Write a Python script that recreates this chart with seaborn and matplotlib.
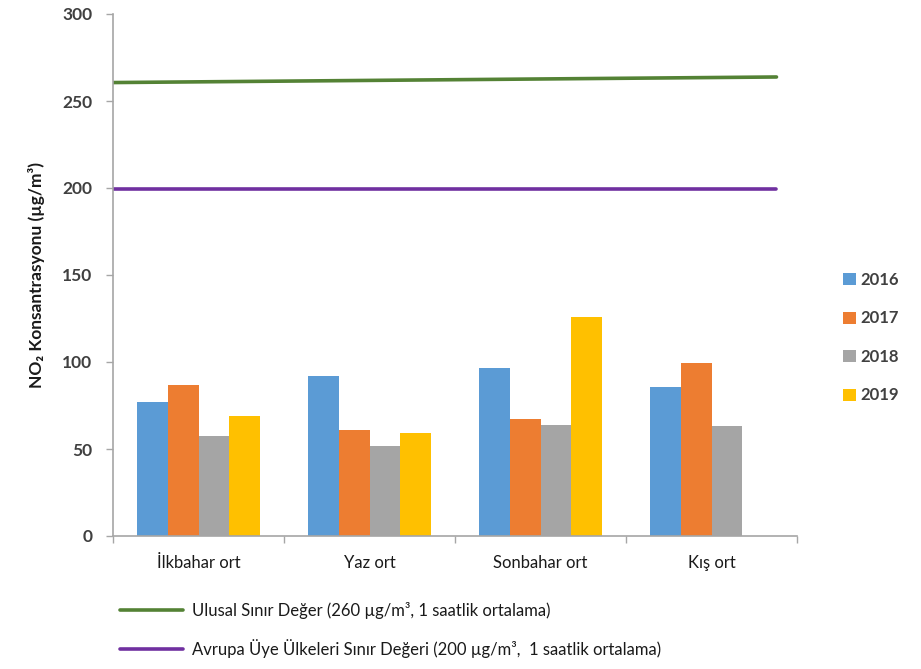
import numpy as np
import pandas as pd
import seaborn as sns
import matplotlib.pyplot as plt
from matplotlib.lines import Line2D

# data
seasons = ['İlkbahar ort', 'Yaz ort', 'Sonbahar ort', 'Kış ort']
years = ['2016', '2017', '2018', '2019']
no2_2016 = [77.1, 92.2, 96.8, 85.9]
no2_2017 = [86.9, 61.1, 67.4, 99.4]
no2_2018 = [57.3, 52.0, 63.6, 63.4]
no2_2019 = [69.0, 59.2, 125.9, np.nan]

# limit lines (drawn across the plot area in the original)
limit_x = [-0.5, 3.38]
ulusal_limit = [260.6, 263.8]
avrupa_limit = [199.6, 199.6]

colors = ['#5B9BD5', '#ED7D31', '#A5A5A5', '#FFC000']
green = '#548235'
purple = '#7030A0'

sns.set_style('white')
plt.rcParams['font.family'] = ['Lato', 'DejaVu Sans']

rows = []
for year, vals in zip(years, [no2_2016, no2_2017, no2_2018, no2_2019]):
    for season, v in zip(seasons, vals):
        rows.append({'season': season, 'year': year, 'value': v})
df = pd.DataFrame(rows).dropna()

fig = plt.figure(figsize=(9.21, 6.69), dpi=100)
ax = fig.add_axes([113 / 921, 133 / 669, 684 / 921, 522 / 669])

sns.barplot(data=df, x='season', y='value', hue='year', order=seasons,
            hue_order=years, palette=colors, width=0.725, gap=0,
            saturation=1, errorbar=None, linewidth=0, ax=ax, legend=True)

sns.lineplot(x=limit_x, y=ulusal_limit, color=green, linewidth=2.6, ax=ax)
sns.lineplot(x=limit_x, y=avrupa_limit, color=purple, linewidth=2.6, ax=ax)

ax.set_xlim(-0.5, 3.5)
ax.set_ylim(0, 300)
ax.set_yticks(range(0, 301, 50))
ax.set_xlabel('')
ax.set_ylabel('NO₂ Konsantrasyonu (µg/m³)', fontsize=12.5, fontweight='bold',
              color='#1a1a1a', labelpad=12)

for side in ['top', 'right']:
    ax.spines[side].set_visible(False)
for side in ['left', 'bottom']:
    ax.spines[side].set_color('#A6A6A6')
    ax.spines[side].set_linewidth(1.2)

ax.tick_params(axis='y', direction='out', length=5, width=1, color='#A6A6A6',
               labelsize=12.5, labelcolor='#404040', pad=10, left=True)
for lbl in ax.get_yticklabels():
    lbl.set_fontweight('bold')
ax.set_xticks(np.arange(-0.5, 4, 1), minor=True)
ax.tick_params(axis='x', which='major', length=0, labelsize=12,
               labelcolor='#1a1a1a', pad=14)
ax.tick_params(axis='x', which='minor', direction='out', length=5, width=1,
               color='#A6A6A6', bottom=True)

# year legend on the right
handles, labels = ax.get_legend_handles_labels()
ax.get_legend().remove()
fig.legend(handles[:4], labels[:4], loc='upper left',
           bbox_to_anchor=(828 / 921, 1 - 257 / 669), frameon=False,
           handlelength=0.75, handleheight=0.75, handletextpad=0.3,
           labelspacing=1.35, prop={'size': 12, 'weight': 'bold'},
           labelcolor='#404040')

# limit legend at the bottom
line_handles = [Line2D([0], [0], color=green, linewidth=2.6),
                Line2D([0], [0], color=purple, linewidth=2.6)]
line_labels = ['Ulusal Sınır Değer (260 µg/m³, 1 saatlik ortalama)',
               'Avrupa Üye Ülkeleri Sınır Değeri (200 µg/m³,  1 saatlik ortalama)']
fig.legend(line_handles, line_labels, loc='upper left',
           bbox_to_anchor=(105 / 921, 1 - 587 / 669), frameon=False,
           handlelength=3.8, handletextpad=0.5, labelspacing=1.2,
           prop={'size': 12}, labelcolor='#1a1a1a')

fig.savefig('out.png', dpi=100)
